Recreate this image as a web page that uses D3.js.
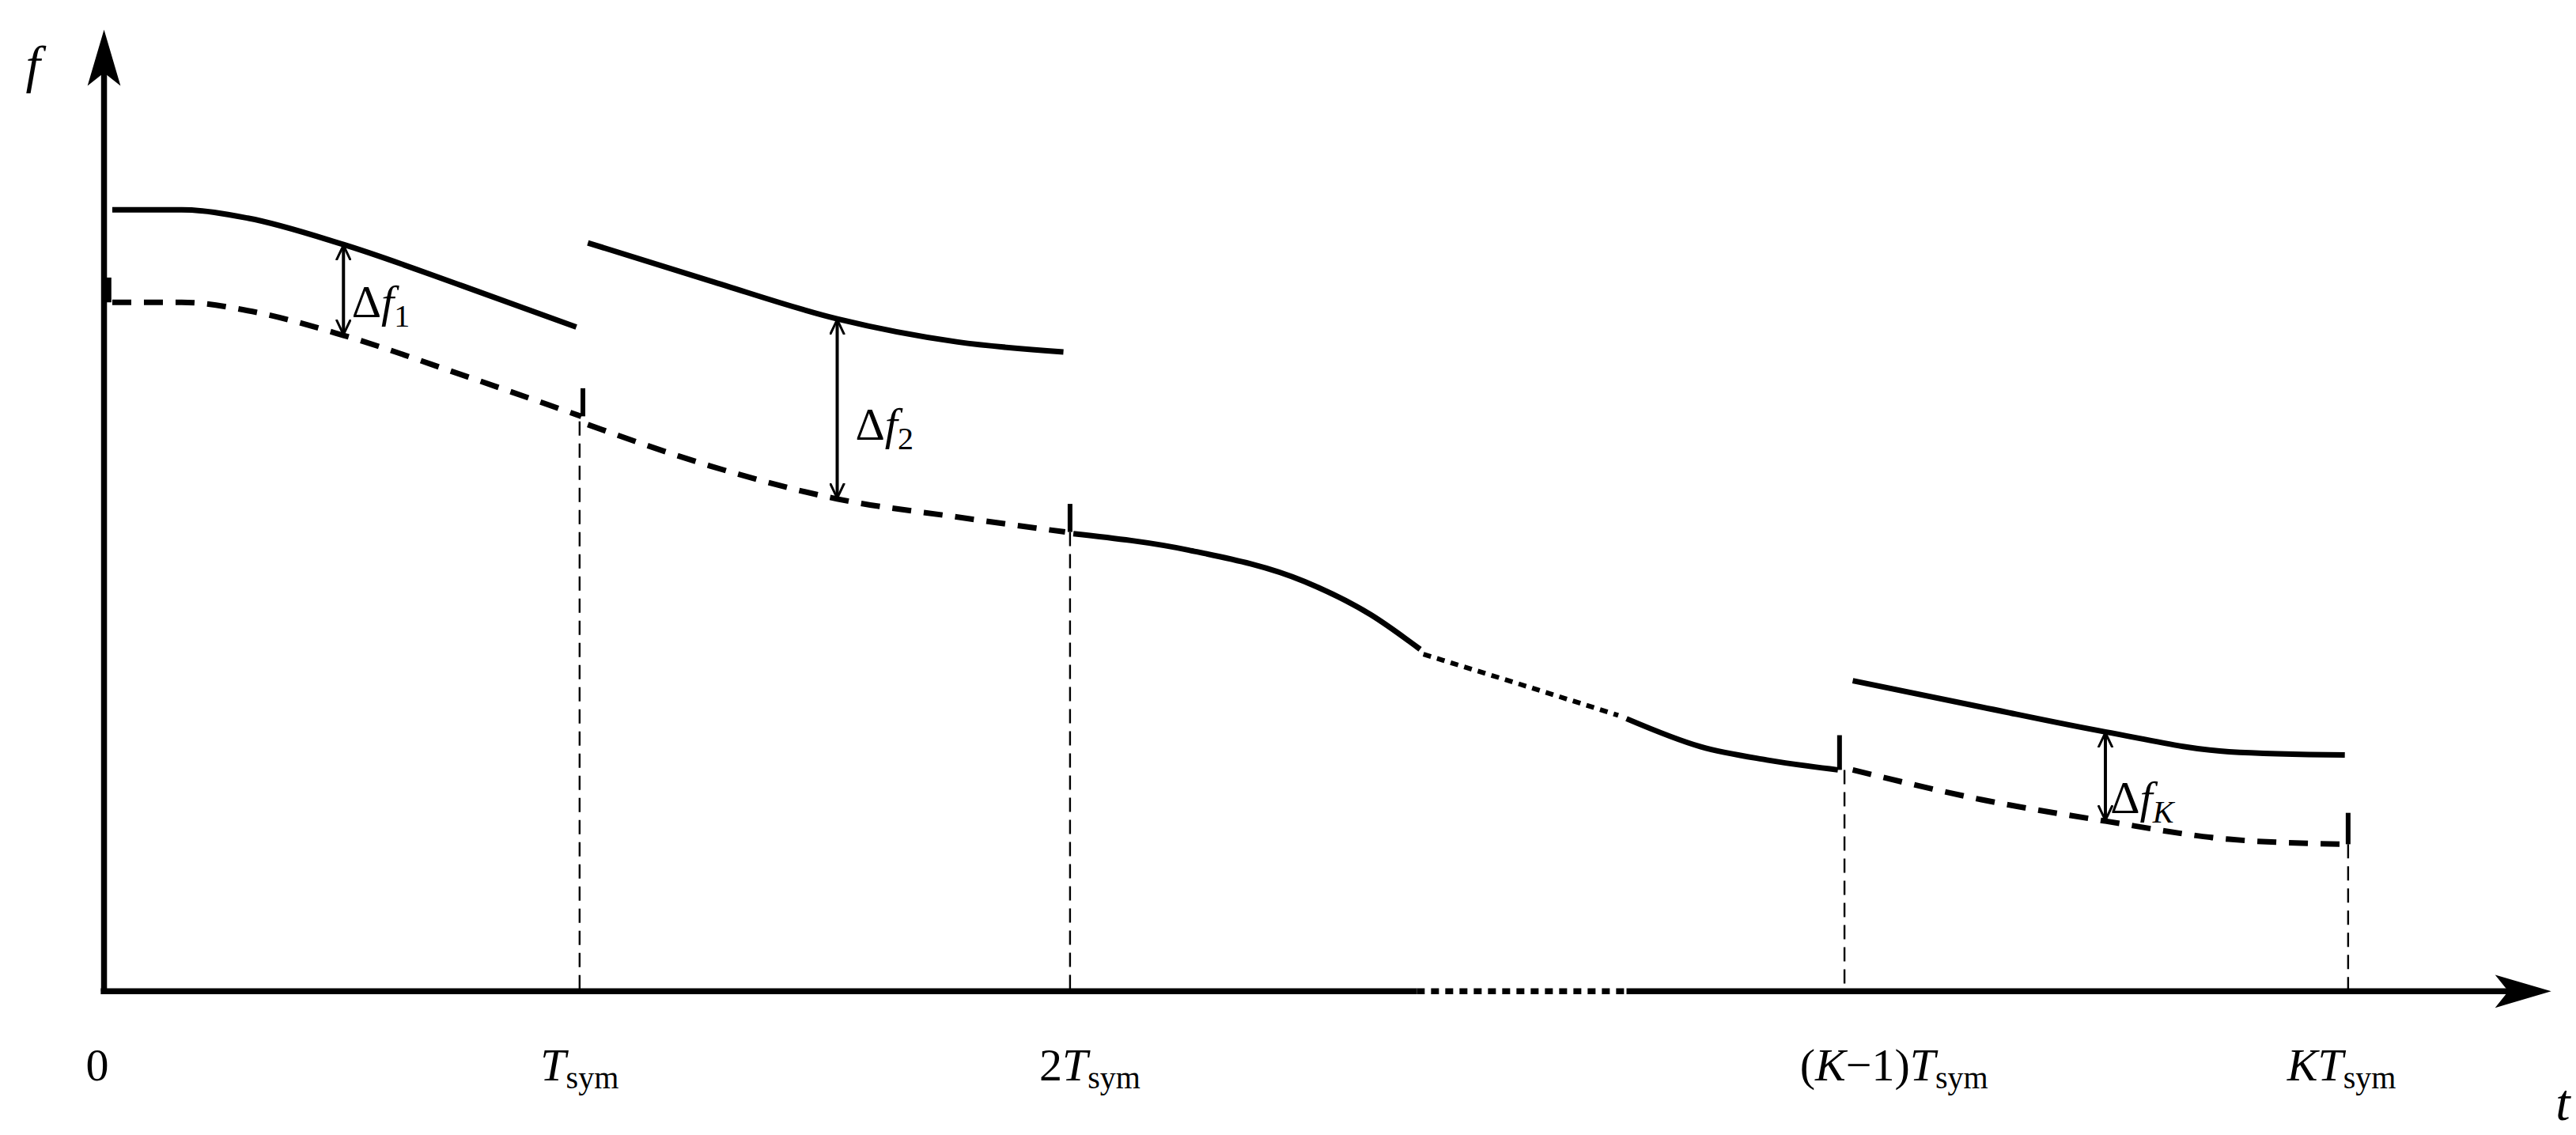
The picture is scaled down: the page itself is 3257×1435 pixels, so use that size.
<!DOCTYPE html>
<html><head><meta charset="utf-8">
<script src="https://cdn.jsdelivr.net/npm/d3@7"></script>
<style>body{margin:0;background:#fff}svg{display:block}text{font-family:"Liberation Serif","Times New Roman","DejaVu Serif",serif}</style>
</head><body>
<script>
// Data in reference units (0..1560 wide, 0..687 tall, y grows downward)
const ticksX = [63, 351, 648, 1117, 1422];
const tickLabels = ["0", "T|sym", "2T|sym", "(K−1)T|sym", "KT|sym"];
const solid1 = [[68,127],[110,127],[150,132],[208,148],[280,173],[349,198]];
const dashed1 = [[68,183],[110,183],[150,188],[208,203],[280,227],[352,252]];
const solid2 = [[356,147],[430,170],[507,193],[580,207],[644,213]];
const dashed2 = [[356,257],[430,282],[507,302],[580,313],[645,322]];
const solid3a = [[650,323],[720,333],[790,352],[830,372],[860,393]];
const dotted3 = [[862,396],[920,414],[980,433]];
const solid3b = [[985,435],[1030,452],[1070,460],[1113,466]];
const solidK = [[1122,412],[1200,428],[1275,443],[1350,455],[1420,457]];
const dashedK = [[1122,466],[1200,484],[1275,497],[1350,508],[1420,511]];
const jumps = [[66,168,183],[353,235,252],[648,305,322],[1114,445,466],[1422,492,511]];
const gaps = [[208,148,203,"1"],[507,193,302,"2"],[1275,443,497,"K"]];
const gapLabelPos = [[213,192],[518,266],[1278,492]];

const W=3257,H=1435;
const x=d3.scaleLinear().domain([0,1560]).range([0,W]);
const y=d3.scaleLinear().domain([0,687]).range([0,H]);
const svg=d3.select("body").append("svg").attr("width",W).attr("height",H);
const defs=svg.append("defs");
defs.append("marker").attr("id","ah").attr("viewBox","0 0 10 10").attr("refX",9).attr("refY",5)
 .attr("markerWidth",20).attr("markerHeight",20).attr("markerUnits","userSpaceOnUse").attr("orient","auto-start-reverse")
 .append("path").attr("d","M0,0.5L9.5,5L0,9.5").attr("fill","none").attr("stroke","#000").attr("stroke-width",1.5);
const line=d3.line().x(d=>x(d[0])).y(d=>y(d[1])).curve(d3.curveMonotoneX);

// guide lines
[[351,255],[648,322],[1117,466],[1422,511]].forEach(([gx,gy])=>{
 svg.append("line").attr("x1",x(gx)).attr("x2",x(gx)).attr("y1",y(gy)).attr("y2",y(600))
  .attr("stroke","#000").attr("stroke-width",2.4).attr("stroke-dasharray","18,10");
});
// axes
svg.append("line").attr("x1",x(63)).attr("x2",x(63)).attr("y1",y(600)).attr("y2",y(40)).attr("stroke","#000").attr("stroke-width",7.5);
svg.append("path").attr("d",`M${x(63)},${y(18)}L${x(53)},${y(52)}L${x(63)},${y(44)}L${x(73)},${y(52)}Z`).attr("fill","#000");
svg.append("line").attr("x1",x(61)).attr("x2",x(858)).attr("y1",y(600)).attr("y2",y(600)).attr("stroke","#000").attr("stroke-width",7.5);
svg.append("line").attr("x1",x(858)).attr("x2",x(985)).attr("y1",y(600)).attr("y2",y(600)).attr("stroke","#000").attr("stroke-width",7.5).attr("stroke-dasharray","10,8");
svg.append("line").attr("x1",x(985)).attr("x2",x(1520)).attr("y1",y(600)).attr("y2",y(600)).attr("stroke","#000").attr("stroke-width",7.5);
svg.append("path").attr("d",`M${x(1545)},${y(600)}L${x(1511)},${y(590)}L${x(1519)},${y(600)}L${x(1511)},${y(610)}Z`).attr("fill","#000");

// curves
[solid1,solid2,solid3a,solid3b,solidK].forEach(d=>svg.append("path").attr("d",line(d)).attr("fill","none").attr("stroke","#000").attr("stroke-width",7));
[dashed1,dashed2,dashedK].forEach(d=>svg.append("path").attr("d",line(d)).attr("fill","none").attr("stroke","#000").attr("stroke-width",7).attr("stroke-dasharray","24,16"));
svg.append("path").attr("d",line(dotted3)).attr("fill","none").attr("stroke","#000").attr("stroke-width",6).attr("stroke-dasharray","10,8");
jumps.forEach(([jx,a,b])=>svg.append("line").attr("x1",x(jx)).attr("x2",x(jx)).attr("y1",y(a)).attr("y2",y(b)).attr("stroke","#000").attr("stroke-width",6));

// gap arrows
gaps.forEach(([gx,a,b,s],i)=>{
 svg.append("line").attr("x1",x(gx)).attr("x2",x(gx)).attr("y1",y(a)+2).attr("y2",y(b)-2)
  .attr("stroke","#000").attr("stroke-width",4).attr("marker-start","url(#ah)").attr("marker-end","url(#ah)");
 const t=svg.append("text").attr("x",x(gapLabelPos[i][0])).attr("y",y(gapLabelPos[i][1])).attr("font-size",58);
 t.append("tspan").text("Δ");
 t.append("tspan").attr("font-style","italic").text("f");
 t.append("tspan").attr("font-size",40).attr("dy",12).attr("font-style",s==="K"?"italic":"normal").text(s);
});

// tick labels
ticksX.forEach((tx,i)=>{
 const parts=tickLabels[i].split("|");
 const t=svg.append("text").attr("y",y(654)).attr("font-size",58)
  .attr("text-anchor", i===0?"start":"middle");
 parts[0].split("").forEach(c=>t.append("tspan").attr("font-style",/[TK]/.test(c)?"italic":"normal").text(c));
 if(parts[1]) t.append("tspan").attr("font-size",40).attr("dy",10).text(parts[1]);
 const off=[0,0,12,30,-4][i];
 t.attr("x", i===0? x(52) : x(tx)+x(off));
});
svg.append("text").attr("x",x(1552)).attr("y",y(678)).attr("font-size",66).attr("font-style","italic").attr("text-anchor","middle").text("t");
svg.append("text").attr("x",x(20)).attr("y",y(50)).attr("font-size",66).attr("font-style","italic").attr("text-anchor","middle").text("f");
</script>
</body></html>
